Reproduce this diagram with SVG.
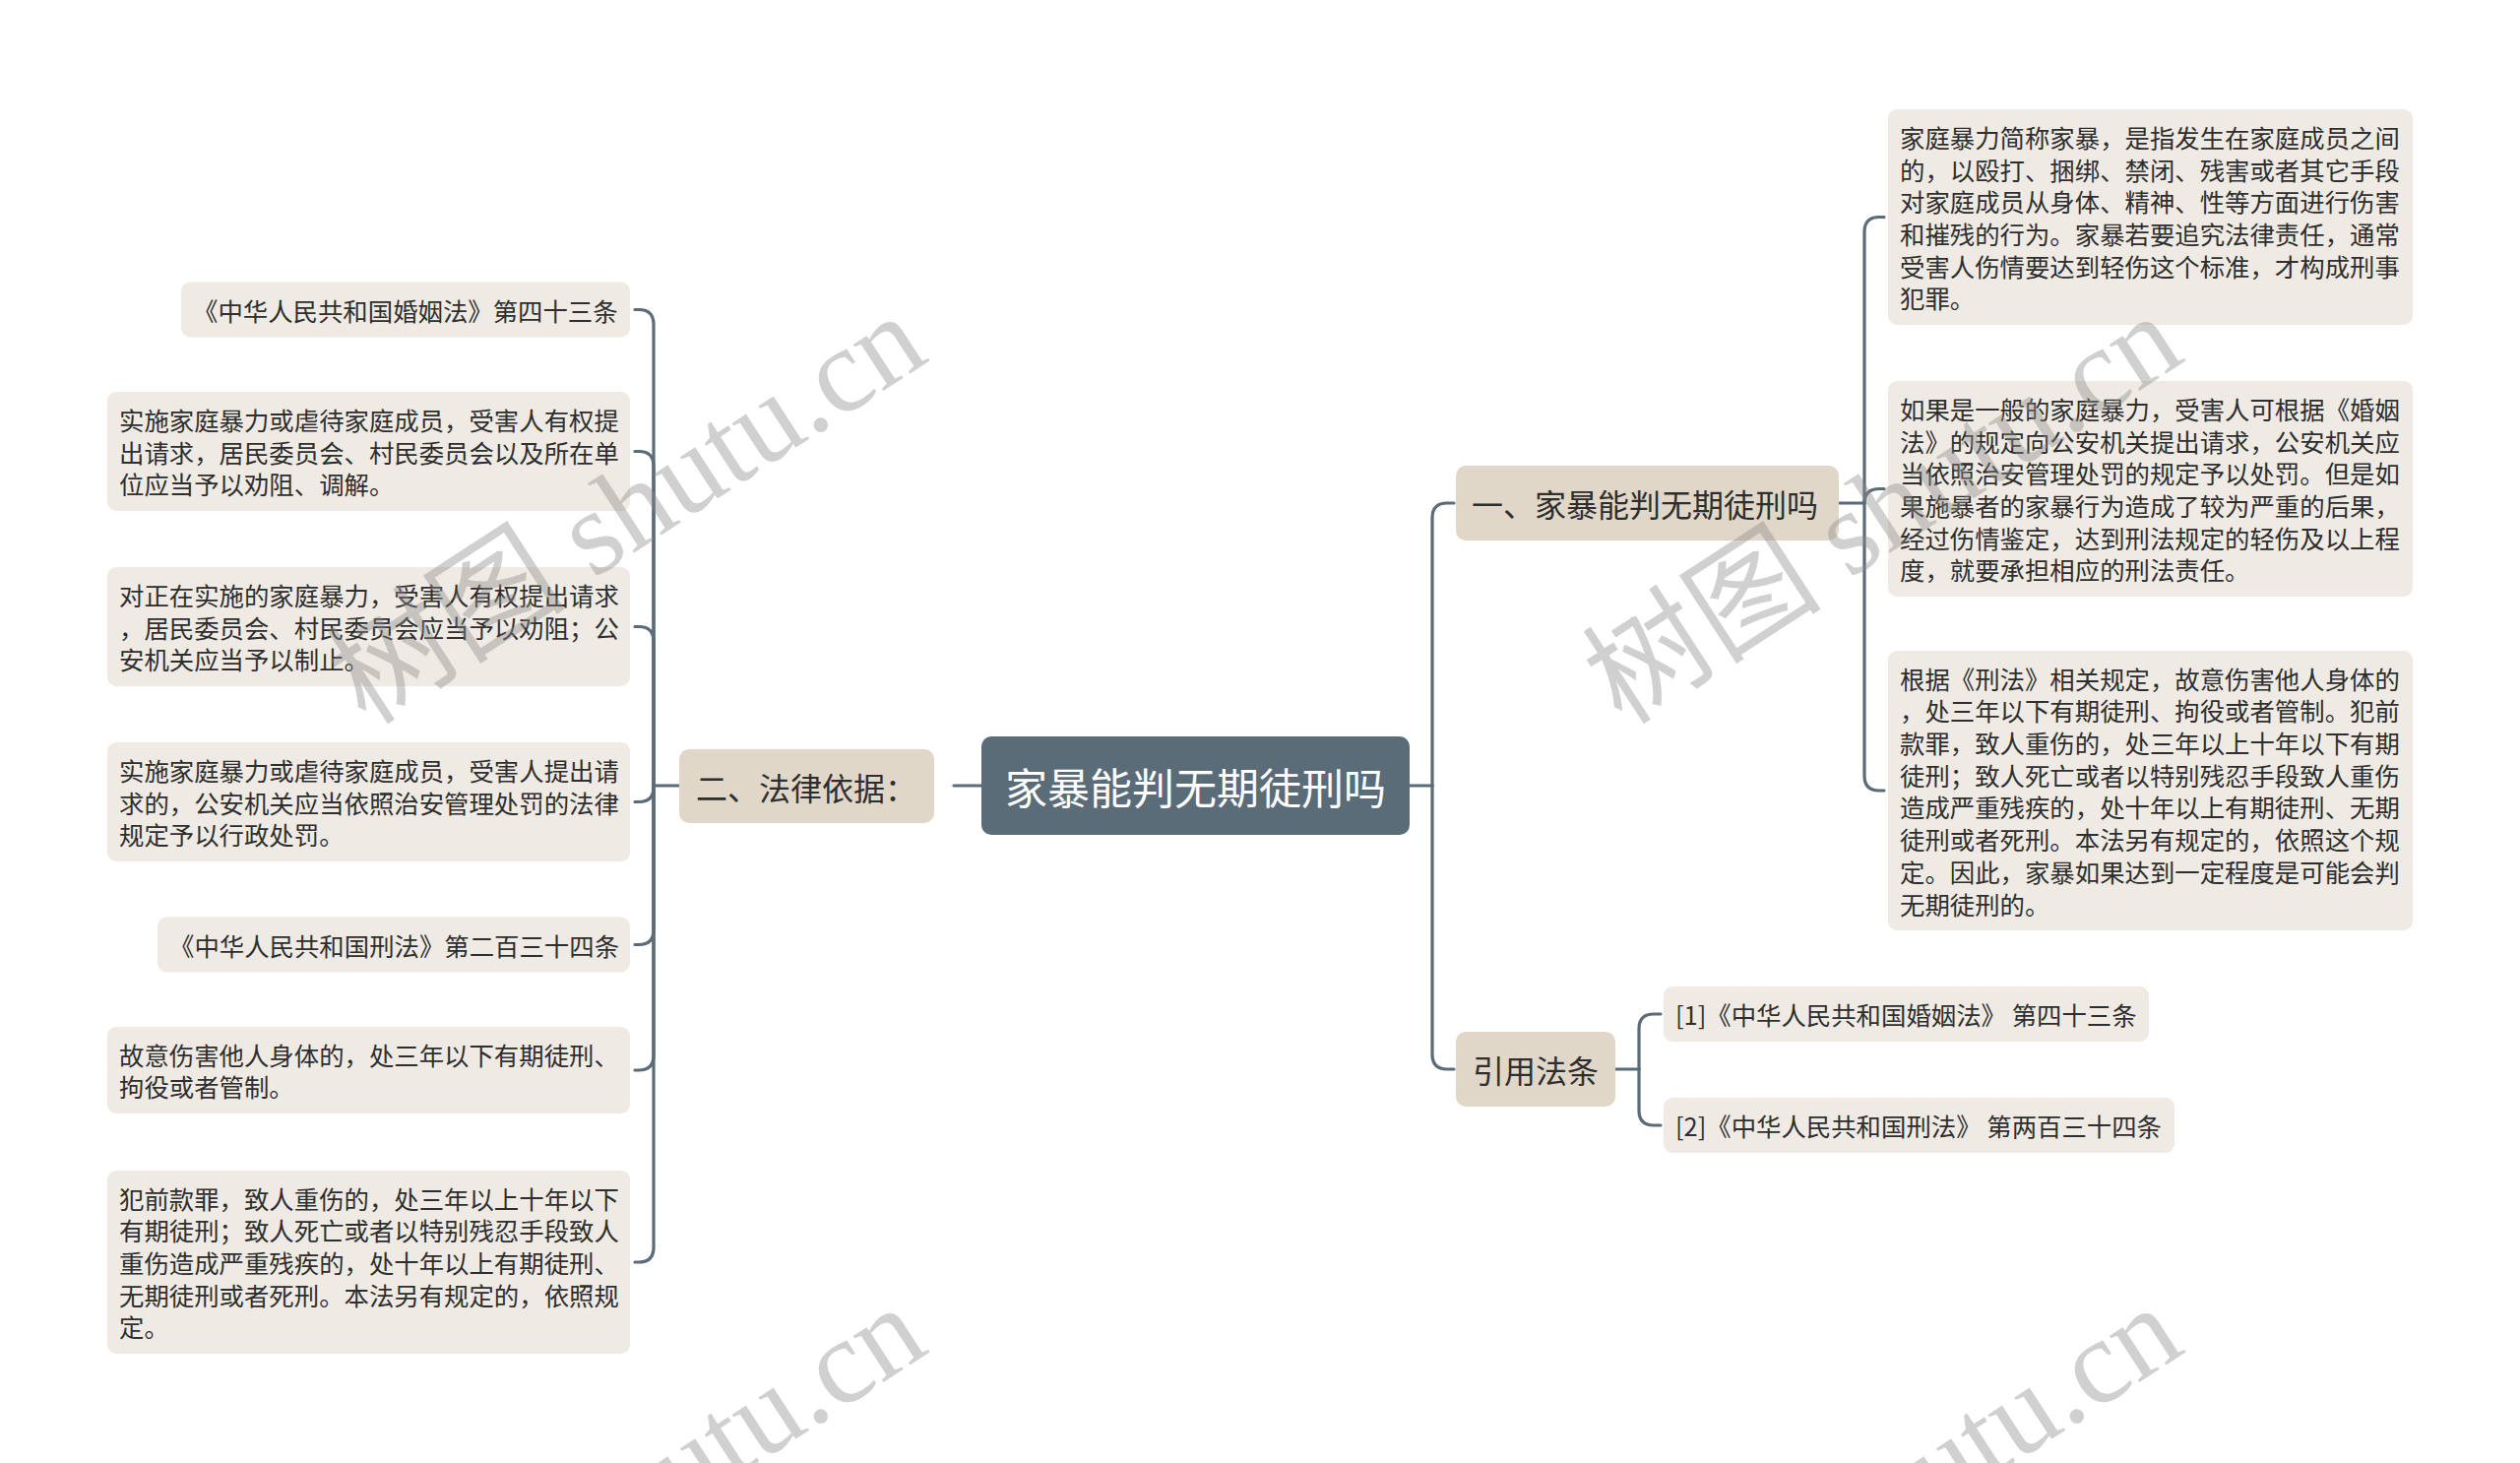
<svg xmlns="http://www.w3.org/2000/svg" width="2560" height="1486" viewBox="0 0 2560 1486">
<style>
.leaf{fill:#efebe4;}
.main{fill:#e1d7c8;}
.root{fill:#5b6c79;}
.t{font-family:"Noto Sans CJK SC","Noto Sans",sans-serif;fill:#2e2e2e;dominant-baseline:central;}
.lt{font-size:25.4px;}
.mt{font-size:32px;}
.rt{font-size:43px;fill:#ffffff;}
.c{fill:none;stroke:#5b6b78;stroke-width:3.2;stroke-linecap:round;stroke-linejoin:round;}
.wm{font-family:"Liberation Serif","Noto Sans CJK SC",serif;font-size:122px;fill:#8c8c8c;opacity:0.4;}
</style>
<rect width="2560" height="1486" fill="#ffffff"/>

<g id="connectors">
<path class="c" d="M997 798 H969"/>
<path class="c" d="M690 798 H664"/>
<path class="c" d="M664 798 V329.5 Q664 314.5 649 314.5 H645"/>
<path class="c" d="M664 798 V473.5 Q664 458.5 649 458.5 H645"/>
<path class="c" d="M664 798 V651.5 Q664 636.5 649 636.5 H645"/>
<path class="c" d="M664 798 V799.5 Q664 814.5 649 814.5 H645"/>
<path class="c" d="M664 798 V944.5 Q664 959.5 649 959.5 H645"/>
<path class="c" d="M664 798 V1072 Q664 1087 649 1087 H645"/>
<path class="c" d="M664 798 V1267 Q664 1282 649 1282 H645"/>
<path class="c" d="M1432 798 H1455"/>
<path class="c" d="M1455 798 V526 Q1455 511 1470 511 H1477"/>
<path class="c" d="M1455 798 V1071 Q1455 1086 1470 1086 H1477"/>
<path class="c" d="M1868 511 H1894"/>
<path class="c" d="M1894 511 V235.5 Q1894 220.5 1909 220.5 H1914"/>
<path class="c" d="M1894 511 V511.5 Q1894 496.5 1909 496.5 H1914"/>
<path class="c" d="M1894 511 V788 Q1894 803 1909 803 H1914"/>
<path class="c" d="M1641 1086 H1665"/>
<path class="c" d="M1665 1086 V1045 Q1665 1030 1680 1030 H1687"/>
<path class="c" d="M1665 1086 V1128 Q1665 1143 1680 1143 H1687"/>
</g>

<g id="root">
<rect class="root" x="997" y="748" width="435" height="100" rx="10"/>
<text class="t rt" x="1214.5" y="798" text-anchor="middle">家暴能判无期徒刑吗</text>
</g>

<g id="main-left">
<rect class="main" x="690" y="761" width="259" height="75" rx="10"/>
<text class="t mt" x="707" y="798.5">二、法律依据：</text>
</g>

<g id="main-right-1">
<rect class="main" x="1479" y="473" width="389" height="76" rx="10"/>
<text class="t mt" x="1495" y="511">一、家暴能判无期徒刑吗</text>
</g>

<g id="main-right-2">
<rect class="main" x="1479" y="1048" width="162" height="76" rx="10"/>
<text class="t mt" x="1496" y="1086">引用法条</text>
</g>

<g id="L1">
<rect class="leaf" x="184" y="286.5" width="456" height="56" rx="9"/>
<text class="t lt" x="196" y="314.5">《中华人民共和国婚姻法》第四十三条</text>
</g>
<g id="L2">
<rect class="leaf" x="109" y="398" width="531" height="121" rx="9"/>
<text class="t lt" x="121" y="425.8">实施家庭暴力或虐待家庭成员，受害人有权提</text>
<text class="t lt" x="121" y="458.5">出请求，居民委员会、村民委员会以及所在单</text>
<text class="t lt" x="121" y="491.2">位应当予以劝阻、调解。</text>
</g>
<g id="L3">
<rect class="leaf" x="109" y="576" width="531" height="121" rx="9"/>
<text class="t lt" x="121" y="603.8">对正在实施的家庭暴力，受害人有权提出请求</text>
<text class="t lt" x="121" y="636.5">，居民委员会、村民委员会应当予以劝阻；公</text>
<text class="t lt" x="121" y="669.2">安机关应当予以制止。</text>
</g>
<g id="L4">
<rect class="leaf" x="109" y="754" width="531" height="121" rx="9"/>
<text class="t lt" x="121" y="781.8">实施家庭暴力或虐待家庭成员，受害人提出请</text>
<text class="t lt" x="121" y="814.5">求的，公安机关应当依照治安管理处罚的法律</text>
<text class="t lt" x="121" y="847.2">规定予以行政处罚。</text>
</g>
<g id="L5">
<rect class="leaf" x="160" y="931.5" width="480" height="56" rx="9"/>
<text class="t lt" x="172" y="959.5">《中华人民共和国刑法》第二百三十四条</text>
</g>
<g id="L6">
<rect class="leaf" x="109" y="1043" width="531" height="88" rx="9"/>
<text class="t lt" x="121" y="1070.6">故意伤害他人身体的，处三年以下有期徒刑、</text>
<text class="t lt" x="121" y="1103.4">拘役或者管制。</text>
</g>
<g id="L7">
<rect class="leaf" x="109" y="1189" width="531" height="186" rx="9"/>
<text class="t lt" x="121" y="1216.6">犯前款罪，致人重伤的，处三年以上十年以下</text>
<text class="t lt" x="121" y="1249.3">有期徒刑；致人死亡或者以特别残忍手段致人</text>
<text class="t lt" x="121" y="1282">重伤造成严重残疾的，处十年以上有期徒刑、</text>
<text class="t lt" x="121" y="1314.7">无期徒刑或者死刑。本法另有规定的，依照规</text>
<text class="t lt" x="121" y="1347.4">定。</text>
</g>

<g id="R1">
<rect class="leaf" x="1918" y="111" width="533" height="219" rx="9"/>
<text class="t lt" x="1930" y="138.8">家庭暴力简称家暴，是指发生在家庭成员之间</text>
<text class="t lt" x="1930" y="171.5">的，以殴打、捆绑、禁闭、残害或者其它手段</text>
<text class="t lt" x="1930" y="204.2">对家庭成员从身体、精神、性等方面进行伤害</text>
<text class="t lt" x="1930" y="236.9">和摧残的行为。家暴若要追究法律责任，通常</text>
<text class="t lt" x="1930" y="269.6">受害人伤情要达到轻伤这个标准，才构成刑事</text>
<text class="t lt" x="1930" y="302.3">犯罪。</text>
</g>
<g id="R2">
<rect class="leaf" x="1918" y="387" width="533" height="219" rx="9"/>
<text class="t lt" x="1930" y="414.8">如果是一般的家庭暴力，受害人可根据《婚姻</text>
<text class="t lt" x="1930" y="447.5">法》的规定向公安机关提出请求，公安机关应</text>
<text class="t lt" x="1930" y="480.2">当依照治安管理处罚的规定予以处罚。但是如</text>
<text class="t lt" x="1930" y="512.9">果施暴者的家暴行为造成了较为严重的后果，</text>
<text class="t lt" x="1930" y="545.6">经过伤情鉴定，达到刑法规定的轻伤及以上程</text>
<text class="t lt" x="1930" y="578.3">度，就要承担相应的刑法责任。</text>
</g>
<g id="R3">
<rect class="leaf" x="1918" y="661" width="533" height="284" rx="9"/>
<text class="t lt" x="1930" y="688.6">根据《刑法》相关规定，故意伤害他人身体的</text>
<text class="t lt" x="1930" y="721.3">，处三年以下有期徒刑、拘役或者管制。犯前</text>
<text class="t lt" x="1930" y="754">款罪，致人重伤的，处三年以上十年以下有期</text>
<text class="t lt" x="1930" y="786.7">徒刑；致人死亡或者以特别残忍手段致人重伤</text>
<text class="t lt" x="1930" y="819.4">造成严重残疾的，处十年以上有期徒刑、无期</text>
<text class="t lt" x="1930" y="852.1">徒刑或者死刑。本法另有规定的，依照这个规</text>
<text class="t lt" x="1930" y="884.8">定。因此，家暴如果达到一定程度是可能会判</text>
<text class="t lt" x="1930" y="917.5">无期徒刑的。</text>
</g>

<g id="C1">
<rect class="leaf" x="1690" y="1002" width="493" height="56" rx="9"/>
<text class="t lt" x="1702" y="1030">[1]《中华人民共和国婚姻法》 第四十三条</text>
</g>
<g id="C2">
<rect class="leaf" x="1690" y="1115" width="519" height="56" rx="9"/>
<text class="t lt" x="1702" y="1143">[2]《中华人民共和国刑法》 第两百三十四条</text>
</g>

<g id="watermarks">
<text class="wm" transform="translate(372,738) rotate(-33)">树图 shutu.cn</text>
<text class="wm" transform="translate(1648,738) rotate(-33)">树图 shutu.cn</text>
<text class="wm" transform="translate(372,1745) rotate(-33)">树图 shutu.cn</text>
<text class="wm" transform="translate(1648,1745) rotate(-33)">树图 shutu.cn</text>
</g>
</svg>
